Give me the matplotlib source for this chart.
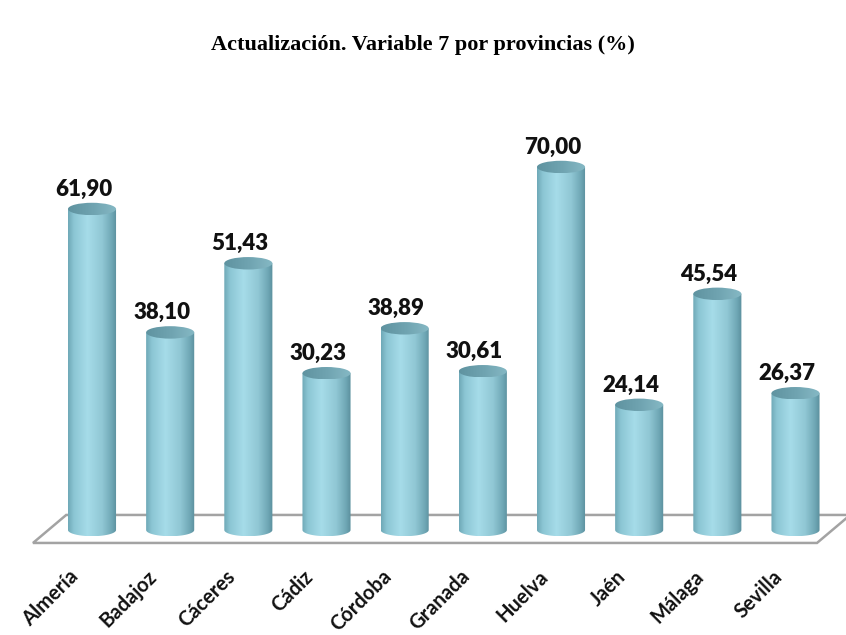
import numpy as np
import matplotlib
matplotlib.use('Agg')
import matplotlib.pyplot as plt
from matplotlib.patches import Ellipse, Polygon, PathPatch
from matplotlib.path import Path
from matplotlib.colors import LinearSegmentedColormap

provincias = ['Almería', 'Badajoz', 'Cáceres', 'Cádiz', 'Córdoba',
              'Granada', 'Huelva', 'Jaén', 'Málaga', 'Sevilla']
valores = [61.90, 38.10, 51.43, 30.23, 38.89, 30.61, 70.00, 24.14, 45.54, 26.37]
titulo = 'Actualización. Variable 7 por provincias (%)'

fig = plt.figure(figsize=(8.46, 6.35), dpi=100)
ax = fig.add_axes([0, 0, 1, 1])
ax.axis('off')

body_cmap = LinearSegmentedColormap.from_list('body', [
    (0.0, '#6ea8b7'), (0.12, '#8cc6d4'), (0.40, '#a6dce9'),
    (0.70, '#90c7d4'), (0.90, '#6fa7b5'), (1.0, '#5a8f9c')])
top_cmap = LinearSegmentedColormap.from_list('top', [
    (0.0, '#5f93a0'), (0.5, '#6fa3b0'), (1.0, '#86b9c5')])

w = 0.615      # cylinder width (x units)
h = 2.4        # ellipse height (y units)
grad = np.linspace(0, 1, 256).reshape(1, -1)

# floor (parallelogram)
floor = Polygon([(-0.755, -2.5), (9.275, -2.5), (9.70, 2.9), (-0.33, 2.9)],
                closed=True, facecolor='white', edgecolor='#a3a3a3',
                linewidth=1.8, zorder=1)
ax.add_patch(floor)

for i, (name, v) in enumerate(zip(provincias, valores)):
    x = i
    th = np.linspace(np.pi, 2 * np.pi, 60)
    ex = x + w / 2 * np.cos(th)
    ey = h / 2 * np.sin(th)
    verts = [(x - w / 2, v)] + list(zip(ex, ey)) + [(x + w / 2, v), (x - w / 2, v)]
    codes = [Path.MOVETO] + [Path.LINETO] * (len(verts) - 2) + [Path.CLOSEPOLY]
    body = PathPatch(Path(verts, codes), facecolor='none', edgecolor='none', zorder=3)
    ax.add_patch(body)
    im = ax.imshow(grad, extent=[x - w / 2, x + w / 2, -h / 2, v], aspect='auto',
                   cmap=body_cmap, zorder=3, interpolation='bilinear')
    im.set_clip_path(body)
    top = Ellipse((x, v), w, h, facecolor='none', edgecolor='none', zorder=4)
    ax.add_patch(top)
    im2 = ax.imshow(grad, extent=[x - w / 2, x + w / 2, v - h / 2, v + h / 2],
                    aspect='auto', cmap=top_cmap, zorder=4, interpolation='bilinear')
    im2.set_clip_path(top)
    ax.text(x - 0.11, v + h / 2 + 0.6, f'{v:.2f}'.replace('.', ','), ha='center',
            va='bottom', fontsize=16, fontweight='heavy', family='Lato',
            color='#111111', zorder=5)
    ax.text(x - 0.3, -7.0, name, ha='right', va='top', rotation=45,
            rotation_mode='anchor', fontsize=14.5, fontweight='bold',
            family='Lato', color='#111111')

ax.set_xlim(-1.177, 9.646)
ax.set_ylim(-20.25, 102.2)

fig.text(0.5, 1 - 45 / 635, titulo, ha='center', va='center',
         family='Liberation Serif', fontweight='bold', fontsize=16)

fig.savefig('out.png', dpi=100)
